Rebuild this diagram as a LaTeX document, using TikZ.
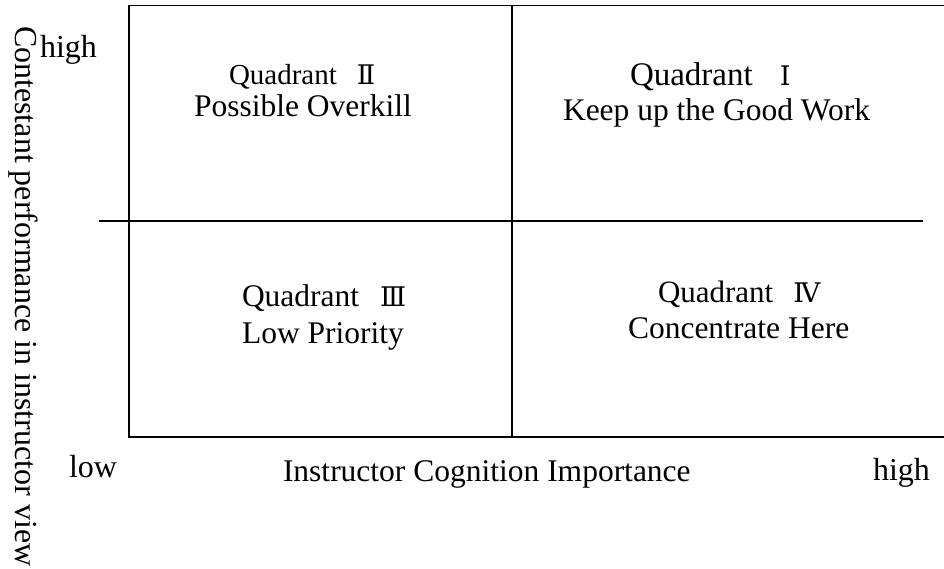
\documentclass[tikz,border=0pt]{standalone}
\usepackage{fontspec}
\setmainfont{Liberation Serif}
\newfontfamily\numfont{DejaVu Serif}
\tikzset{
  frame/.style={line width=1.5pt, draw=black},
  lbl/.style={inner sep=0pt, outer sep=0pt, anchor=base west, font=\fontsize{31.5}{36}\selectfont},
}
\newcommand{\qnum}[1]{{\numfont\fontsize{27}{30}\selectfont #1}}
\begin{document}
\begin{tikzpicture}[x=1pt,y=-1pt]
\useasboundingbox (0,0) rectangle (944,568);
% frame coordinates
\coordinate (tl) at (129,5.5);
\coordinate (tr) at (944,5.5);
\coordinate (bl) at (129,437);
\coordinate (br) at (944,437);
\coordinate (vt) at (512,5.5);
\coordinate (vb) at (512,437);
\coordinate (hl) at (99,221);
\coordinate (hr) at (923,221);
\draw[frame] (tr) -- (tl) -- (bl) -- (br);
\draw[frame] (vt) -- (vb);
\draw[frame] (hl) -- (hr);
% quadrant texts
\node[lbl, font=\fontsize{29}{34}\selectfont] (q2a) at (229,84) {Quadrant\hspace{20pt}\qnum{Ⅱ}};
\node[lbl] (q2b) at (194,116) {Possible Overkill};
\node[lbl, font=\fontsize{33}{38}\selectfont] (q1a) at (630,85) {Quadrant\hspace{27pt}\qnum{Ⅰ}};
\node[lbl] (q1b) at (563,120) {Keep up the Good Work};
\node[lbl] (q3a) at (242,306) {Quadrant\hspace{21pt}\qnum{Ⅲ}};
\node[lbl] (q3b) at (242,343) {Low Priority};
\node[lbl, font=\fontsize{31}{36}\selectfont] (q4a) at (658,302) {Quadrant\hspace{20pt}\qnum{Ⅳ}};
\node[lbl] (q4b) at (628,338) {Concentrate Here};
% axis labels
\node[lbl, font=\fontsize{32}{36}\selectfont] (yhigh) at (40,57) {high};
\node[lbl, font=\fontsize{32}{36}\selectfont] (xlow) at (69,477) {low};
\node[lbl] (xlab) at (283,481) {Instructor Cognition Importance};
\node[lbl, font=\fontsize{32}{36}\selectfont] (xhigh) at (873,480) {high};
\node[lbl, font=\fontsize{32}{36}\selectfont, rotate=-90] (ylab) at (15,26) {Contestant performance in instructor view};
\end{tikzpicture}
\end{document}
